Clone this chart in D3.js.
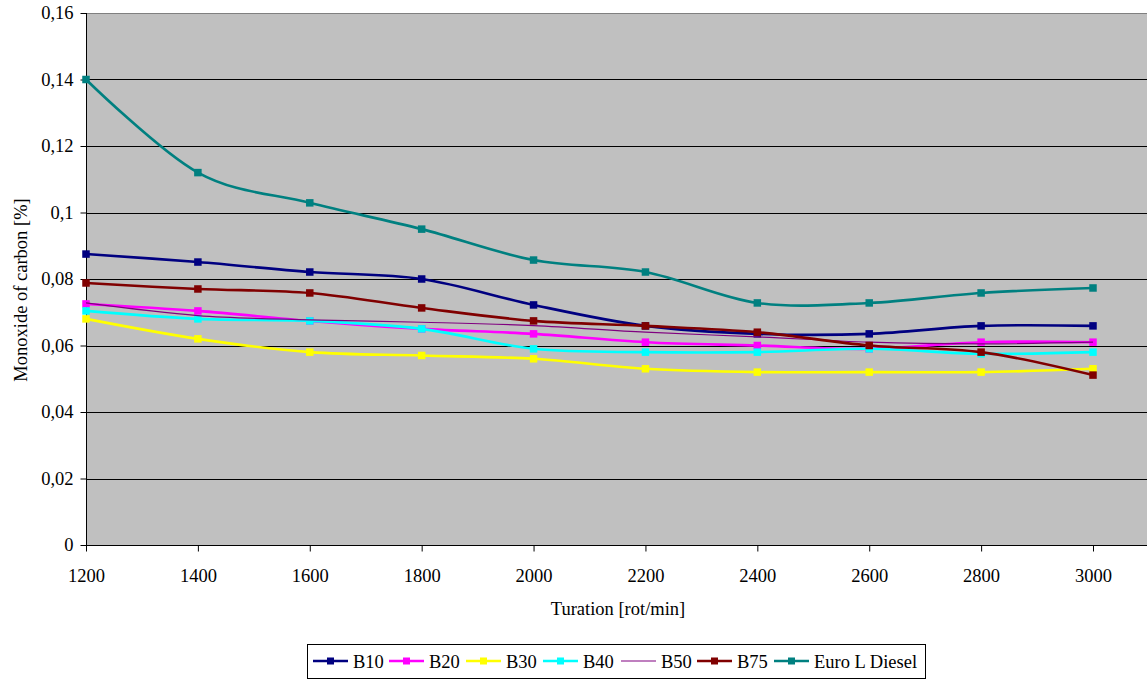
<!DOCTYPE html>
<html>
<head>
<meta charset="utf-8">
<script src="https://cdn.jsdelivr.net/npm/d3@7"></script>
<style>
  html, body { margin: 0; padding: 0; background: #fff; }
  svg { display: block; }
  svg text { font-family: "Liberation Serif", "Times New Roman", serif !important; fill: #000; }
</style>
</head>
<body>
<svg id="chart" width="1147" height="679"></svg>
<script>
// Engine speed (rot/min) on the x axis
const rpm = [1200, 1400, 1600, 1800, 2000, 2200, 2400, 2600, 2800, 3000];

// CO concentration (%) per fuel blend
const b10   = [0.0875, 0.0851, 0.0821, 0.0800, 0.0722, 0.0659, 0.0635, 0.0635, 0.0659, 0.0659];
const b20   = [0.0725, 0.0704, 0.0674, 0.0650, 0.0635, 0.0610, 0.0600, 0.0590, 0.0610, 0.0610];
const b30   = [0.0680, 0.0620, 0.0580, 0.0570, 0.0560, 0.0530, 0.0520, 0.0520, 0.0520, 0.0530];
const b40   = [0.0704, 0.0680, 0.0674, 0.0650, 0.0590, 0.0580, 0.0580, 0.0590, 0.0575, 0.0580];
const b50   = [0.0728, 0.0690, 0.0677, 0.0670, 0.0660, 0.0640, 0.0626, 0.0610, 0.0605, 0.0610];
const b75   = [0.0788, 0.0770, 0.0758, 0.0713, 0.0674, 0.0659, 0.0640, 0.0600, 0.0580, 0.0511];
const euroL = [0.1400, 0.1120, 0.1029, 0.0950, 0.0857, 0.0821, 0.0728, 0.0728, 0.0758, 0.0773];

const seriesNames  = ["B10", "B20", "B30", "B40", "B50", "B75", "Euro L Diesel"];
const seriesValues = [b10, b20, b30, b40, b50, b75, euroL];
const seriesColors = ["#000080", "#FF00FF", "#FFFF00", "#00FFFF", "#800080", "#800000", "#008080"];
const seriesMarked = [true, true, true, true, false, true, true];

const yTicks = [0, 0.02, 0.04, 0.06, 0.08, 0.1, 0.12, 0.14, 0.16];
const xTicks = rpm;

const FONT = '"Liberation Serif", "Times New Roman", serif';
const FS = "18.5px";

const svg = d3.select("#chart");
const plot = { left: 86, top: 13, right: 1147, bottom: 545 };

const x = d3.scaleLinear().domain([1200, 3000]).range([plot.left, 1093]);
const y = d3.scaleLinear().domain([0, 0.16]).range([plot.bottom, plot.top]);

const fmt = v => String(+v.toFixed(2)).replace(".", ",");

// plot background
svg.append("rect")
  .attr("x", plot.left).attr("y", plot.top)
  .attr("width", plot.right - plot.left).attr("height", plot.bottom - plot.top)
  .attr("fill", "#C0C0C0");

// horizontal gridlines
svg.append("g")
  .selectAll("line")
  .data(yTicks.filter(t => t > 0))
  .join("line")
  .attr("x1", plot.left).attr("x2", plot.right)
  .attr("y1", d => Math.round(y(d)) + 0.5).attr("y2", d => Math.round(y(d)) + 0.5)
  .attr("stroke", d => d === 0.16 ? "#808080" : "#000")
  .attr("stroke-width", 1);

// y axis
const yAxis = svg.append("g")
  .attr("transform", `translate(${plot.left + 0.5},0)`)
  .call(d3.axisLeft(y).tickValues(yTicks).tickFormat(fmt).tickSize(6).tickPadding(7))
  .attr("font-family", FONT).attr("font-size", FS);
yAxis.select(".domain").attr("stroke", "#000").attr("d", `M0,${plot.top}V${plot.bottom}`);
yAxis.selectAll(".tick line").attr("stroke", "#000");
yAxis.selectAll(".tick text").attr("fill", "#000");

// x axis
const xAxis = svg.append("g")
  .attr("transform", `translate(0,${plot.bottom + 0.5})`)
  .call(d3.axisBottom(x).tickValues(xTicks).tickFormat(d3.format("d")).tickSize(6).tickPadding(17))
  .attr("font-family", FONT).attr("font-size", FS);
xAxis.select(".domain").attr("stroke", "#000").attr("d", `M${plot.left},0H${plot.right}`);
xAxis.selectAll(".tick line").attr("stroke", "#000");
xAxis.selectAll(".tick text").attr("fill", "#000");

// axis titles
svg.append("text")
  .attr("x", 618).attr("y", 615)
  .attr("text-anchor", "middle")
  .attr("font-family", FONT).attr("font-size", FS)
  .text("Turation [rot/min]");

svg.append("text")
  .attr("transform", "translate(27,290) rotate(-90)")
  .attr("text-anchor", "middle")
  .attr("font-family", FONT).attr("font-size", FS)
  .text("Monoxide of carbon [%]");

// series lines (smoothed) and square markers
const line = d3.line()
  .x((d, i) => x(rpm[i]))
  .y(d => y(d))
  .curve(d3.curveCardinal.tension(0));

const series = seriesNames.map((name, k) => ({
  name, values: seriesValues[k], color: seriesColors[k], marked: seriesMarked[k]
}));

const gSeries = svg.append("g");
series.forEach(s => {
  const g = gSeries.append("g");
  g.append("path")
    .attr("d", line(s.values))
    .attr("fill", "none")
    .attr("stroke", s.color)
    .attr("stroke-width", s.marked ? 2.6 : 1.2)
    .attr("stroke-linejoin", "round");
  if (s.marked) {
    const m = 7.5;
    g.selectAll("rect")
      .data(s.values)
      .join("rect")
      .attr("x", (d, i) => x(rpm[i]) - m / 2)
      .attr("y", d => y(d) - m / 2)
      .attr("width", m).attr("height", m)
      .attr("fill", s.color);
  }
});

// legend
const legendBox = { x: 307.5, y: 644.5, w: 618, h: 34 };
svg.append("rect")
  .attr("x", legendBox.x).attr("y", legendBox.y)
  .attr("width", legendBox.w).attr("height", legendBox.h)
  .attr("fill", "#fff").attr("stroke", "#000").attr("stroke-width", 1);

const legendStarts = [313, 389, 466, 543, 621, 697, 774];
const lg = svg.append("g").attr("font-family", FONT).attr("font-size", FS);
series.forEach((s, k) => {
  const x0 = legendStarts[k];
  const cy = 661;
  lg.append("line")
    .attr("x1", x0).attr("x2", x0 + 35)
    .attr("y1", cy).attr("y2", cy)
    .attr("stroke", s.color)
    .attr("stroke-width", s.marked ? 2.6 : 1.2);
  if (s.marked) {
    lg.append("rect")
      .attr("x", x0 + 17.5 - 3.5).attr("y", cy - 3.5)
      .attr("width", 7).attr("height", 7)
      .attr("fill", s.color);
  }
  lg.append("text")
    .attr("x", x0 + 40).attr("y", 668)
    .text(s.name);
});
</script>
</body>
</html>
